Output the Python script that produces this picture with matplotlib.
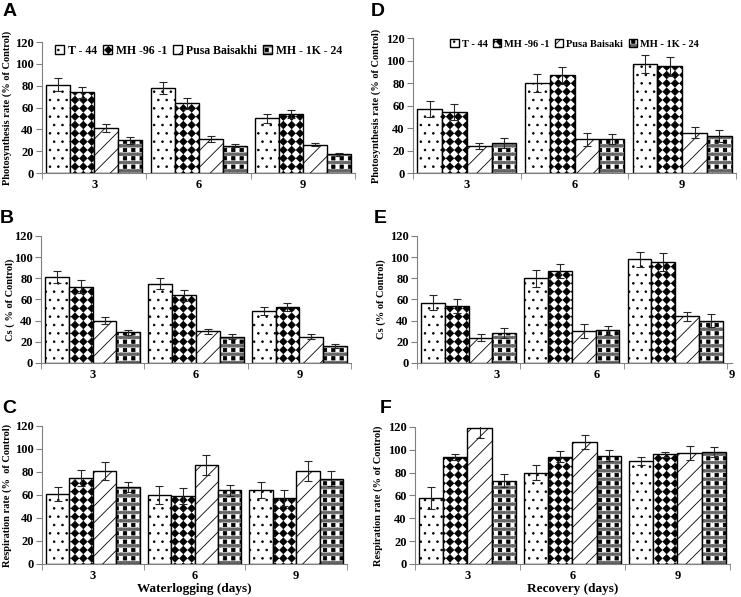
import numpy as np
import matplotlib
matplotlib.use("Agg")
import matplotlib.pyplot as plt
import matplotlib.hatch as mhatch
from matplotlib.path import Path

# cultivars (rows) x days 3, 6, 9 (columns)
cultivars_wl = ["T - 44", "MH -96 -1", "Pusa Baisakhi", "MH - 1K - 24"]
cultivars_rec = ["T - 44", "MH -96 -1", "Pusa Baisaki", "MH - 1K - 24"]
days = ["3", "6", "9"]

photo_wl = [[81, 78, 50], [74, 64, 54], [41, 31, 26], [30, 25, 17]]
photo_wl_err = [[6, 5.5, 4], [5, 5, 4], [3.5, 2.5, 1.5], [3, 1.5, 1.5]]
cs_wl = [[81, 75, 49], [72, 64, 53], [40, 30, 25], [29, 25, 16]]
cs_wl_err = [[5.5, 5, 3.5], [6, 5, 4], [3, 2.5, 2.8], [2.5, 2.2, 1.9]]
resp_wl = [[61, 60, 64], [75, 59, 57], [81, 86, 81], [67, 64, 74]]
resp_wl_err = [[6, 7.5, 7], [7, 7, 7], [8, 9, 8.5], [4.5, 4.5, 6.5]]

photo_rec = [[57, 80, 97], [54, 87, 95], [24, 30, 36], [27, 30, 33]]
photo_rec_err = [[7, 8, 8], [7, 7.5, 8.5], [3, 6, 4.5], [4.5, 4.5, 5]]
cs_rec = [[57, 80, 98], [54, 87, 95], [24, 30, 44], [28, 31, 40]]
cs_rec_err = [[7, 8, 7], [6.5, 7, 8.5], [3.2, 6.5, 4.4], [4.7, 4.4, 6]]
resp_rec = [[58, 80, 90], [94, 94, 96], [119, 107, 97], [73, 95, 98]]
resp_rec_err = [[9.5, 6.5, 3.5], [2.6, 5, 2], [9, 6, 6], [6, 5, 4.6]]

SERIF = "Liberation Serif"
SANS = "Liberation Sans"


# filled shapes on a square grid, used for the diamond / square / band fills
class ShapeHatch(mhatch.HatchPatternBase):
    char = "*"
    shape = []

    def __init__(self, hatch, density):
        self.num_rows = hatch.count(self.char) * density
        n = self.num_rows + 1
        self.num_vertices = n * n * len(self.shape) if self.num_rows else 0

    def set_vertices_and_codes(self, vertices, codes):
        step = 1.0 / self.num_rows
        shape = np.asarray(self.shape, dtype=float) * step
        parts = [shape + [c * step, r * step]
                 for r in range(self.num_rows + 1)
                 for c in range(self.num_rows + 1)]
        vertices[:] = np.concatenate(parts)
        one = [Path.MOVETO] + [Path.LINETO] * (len(self.shape) - 2) + [Path.CLOSEPOLY]
        codes[:] = np.tile(one, (self.num_rows + 1) ** 2)


class Diamonds(ShapeHatch):
    char = "*"
    shape = [[0, -0.44], [0.44, 0], [0, 0.44], [-0.44, 0], [0, -0.44]]


class Squares(ShapeHatch):
    char = "O"
    shape = [[-0.2, -0.2], [0.2, -0.2], [0.2, 0.2], [-0.2, 0.2], [-0.2, -0.2]]


class Bands(ShapeHatch):
    char = "o"
    shape = [[-0.5, 0.36], [0.5, 0.36], [0.5, 0.64], [-0.5, 0.64], [-0.5, 0.36]]


types = mhatch._hatch_types
types[types.index(mhatch.Stars)] = Diamonds
types[types.index(mhatch.LargeCircles)] = Squares
types[types.index(mhatch.SmallCircles)] = Bands

plt.rcParams["hatch.linewidth"] = 0.6


def draw_panel(ax, values, errors, ylabel, label_x, tick_pos=None,
               legend=None, legend_size=9):
    groups = np.arange(len(days)) + 0.5
    width = 0.23
    handles = []
    fills = ["..", "**", "//"]
    for i in range(4):
        x = groups + (i - 1.5) * width
        if i < 3:
            b = ax.bar(x, values[i], width, color="white", edgecolor="black",
                       linewidth=1, hatch=fills[i], zorder=2)
            handles.append(b[0])
        else:
            base = ax.bar(x, values[i], width, color="white", edgecolor="0.4",
                          linewidth=0, hatch="oo", zorder=2)
            top = ax.bar(x, values[i], width, facecolor="none", edgecolor="black",
                         linewidth=1, hatch="OO", zorder=3)
            handles.append((base[0], top[0]))
        ax.errorbar(x, values[i], yerr=errors[i], fmt="none", ecolor="0.15",
                    elinewidth=0.8, capsize=3, capthick=0.8, zorder=4)

    ax.set_xlim(0, 3)
    ax.set_ylim(0, 120)
    ax.set_yticks(range(0, 121, 20))
    ax.set_xticks(groups if tick_pos is None else tick_pos)
    ax.set_xticklabels(days)
    ax.set_xticks([0, 1, 2, 3], minor=True)
    ax.tick_params(axis="x", which="major", length=0, pad=4)
    ax.tick_params(axis="x", which="minor", length=4, color="0.5", direction="out")
    ax.tick_params(axis="y", length=4, color="0.5", pad=2)
    for lab in ax.get_xticklabels() + ax.get_yticklabels():
        lab.set_fontfamily(SERIF)
        lab.set_fontweight("bold")
        lab.set_fontsize(9)
    for side in ["top", "right"]:
        ax.spines[side].set_visible(False)
    for side in ["left", "bottom"]:
        ax.spines[side].set_color("0.5")
    ax.set_ylabel(ylabel, fontfamily=SERIF, fontweight="bold", fontsize=7.5)
    ax.yaxis.set_label_coords(label_x, 0.5)

    if legend is not None:
        ax.legend(handles, legend, loc="upper center", bbox_to_anchor=(0.5, 1.06),
                  ncol=4, frameon=False, handlelength=0.8, handleheight=0.8,
                  handletextpad=0.3, columnspacing=0.5,
                  prop={"family": SERIF, "weight": "bold", "size": legend_size})


fig = plt.figure(figsize=(7.41, 5.97), dpi=100)

ax_a = fig.add_axes([0.0567, 0.7102, 0.4224, 0.2194])
ax_b = fig.add_axes([0.0553, 0.3920, 0.4184, 0.2127])
ax_c = fig.add_axes([0.0567, 0.0553, 0.4116, 0.2312])
ax_d = fig.add_axes([0.5574, 0.7102, 0.4359, 0.2261])
ax_e = fig.add_axes([0.5628, 0.3920, 0.4251, 0.2127])
ax_f = fig.add_axes([0.5600, 0.0553, 0.4251, 0.2295])

draw_panel(ax_a, photo_wl, photo_wl_err, "Photosynthesis rate (% of Control)",
           -0.097, legend=cultivars_wl, legend_size=8.5)
draw_panel(ax_b, cs_wl, cs_wl_err, "Cs ( % of Control)", -0.084)
draw_panel(ax_c, resp_wl, resp_wl_err, "Respiration rate (%  of Control)", -0.1)
draw_panel(ax_d, photo_rec, photo_rec_err, "Photosynthesis rate (% of Control)",
           -0.1, legend=cultivars_rec, legend_size=7.5)
draw_panel(ax_e, cs_rec, cs_rec_err, "Cs (% of Control)", -0.10,
           tick_pos=[0.77, 1.74, 3.05])
draw_panel(ax_f, resp_rec, resp_rec_err, "Respiration rate (% of Control)", -0.10)

ax_c.set_xlabel("Waterlogging (days)", fontfamily=SERIF, fontweight="bold",
                fontsize=9.5, labelpad=1)
ax_f.set_xlabel("Recovery (days)", fontfamily=SERIF, fontweight="bold",
                fontsize=9.5, labelpad=1)

letters = {"A": (0.004, 0.995), "B": (0.0, 0.648), "C": (0.003, 0.33),
           "D": (0.501, 0.995), "E": (0.504, 0.648), "F": (0.513, 0.33)}
for letter, (lx, ly) in letters.items():
    fig.text(lx, ly, letter, fontfamily=SANS, fontweight="bold", fontsize=14,
             va="top", ha="left")

fig.savefig("out.png", dpi=100)
